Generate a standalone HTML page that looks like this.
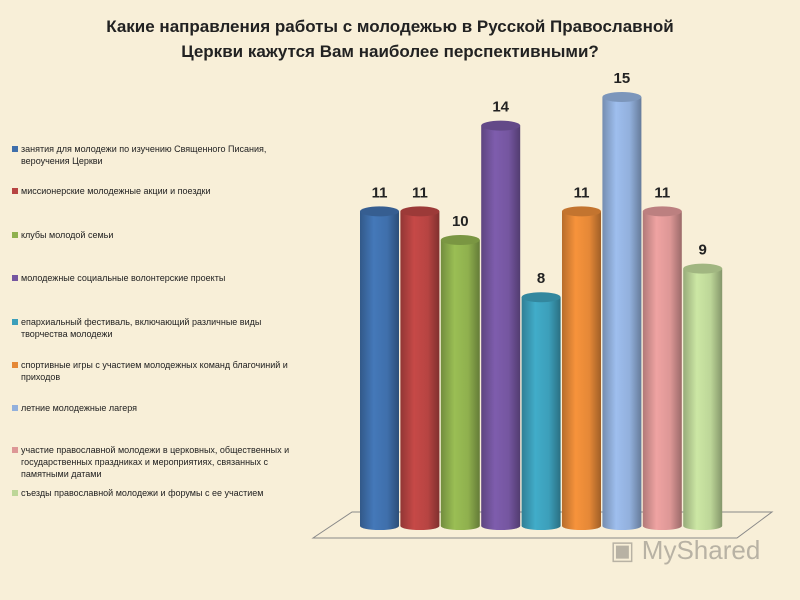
<!DOCTYPE html>
<html><head><meta charset="utf-8"><style>
body{margin:0;width:800px;height:600px;background:#f8efd8;font-family:"Liberation Sans","DejaVu Sans",sans-serif;overflow:hidden;position:relative}
#title{position:absolute;left:80px;top:14px;width:620px;text-align:center;font-weight:bold;font-size:17px;line-height:25px;color:#222}
.leg{position:absolute;left:12px;width:282px;font-size:9px;line-height:12px;color:#222}
.sw{display:inline-block;width:6px;height:6px;margin-right:3px}
.lt{padding-left:9px;text-indent:-9px}
</style></head><body>
<div id="title">Какие направления работы с молодежью в Русской Православной Церкви кажутся Вам наиболее перспективными?</div>
<div id="legend"></div>
<svg id="chart" width="800" height="600" style="position:absolute;left:0;top:0">
<defs></defs>
<polygon points="313,538 352,512 772,512 737,538" fill="none" stroke="#888" stroke-width="1"/>
</svg>
<script>
const categories=["занятия для молодежи по изучению Священного Писания, вероучения Церкви","миссионерские молодежные акции и поездки","клубы молодой семьи","молодежные социальные волонтерские  проекты","епархиальный фестиваль, включающий различные виды творчества молодежи","спортивные игры с участием молодежных команд благочиний и приходов","летние молодежные лагеря","участие православной молодежи в церковных, общественных и государственных праздниках и мероприятиях, связанных с памятными датами","съезды православной  молодежи и форумы с ее участием"];
const values=[11,11,10,14,8,11,15,11,9];
const colors=["#3f6fab","#b74442","#8fb04e","#7556a0","#3c9fba","#e58837","#92b0dc","#dd9796","#bdd698"];
const legendY=[143,185,229,272,316,359,402,444,487];
const y0=526,unit=28.6,x0=360,step=40.4,bw=39;
function yS(v){return y0-v*unit;}
function xS(i){return x0+i*step;}
const svg=document.getElementById('chart'),defs=svg.querySelector('defs'),NS="http://www.w3.org/2000/svg";
function sh(c,f){const n=parseInt(c.slice(1),16);let r=n>>16,g=(n>>8)&255,b=n&255;r=Math.min(255,Math.round(r*f));g=Math.min(255,Math.round(g*f));b=Math.min(255,Math.round(b*f));return `rgb(${r},${g},${b})`;}
values.forEach((v,i)=>{
 const gr=document.createElementNS(NS,'linearGradient');gr.id='g'+i;
 [[0,0.8],[0.35,1.08],[0.7,1],[1,0.7]].forEach(([o,f])=>{const s=document.createElementNS(NS,'stop');s.setAttribute('offset',o);s.setAttribute('stop-color',sh(colors[i],f));gr.appendChild(s);});
 defs.appendChild(gr);
 const x=xS(i),yt=yS(v);
 const p=document.createElementNS(NS,'path');
 p.setAttribute('d',`M${x},${yt} L${x},${y0} A${bw/2},4 0 0 0 ${x+bw},${y0} L${x+bw},${yt} Z`);
 p.setAttribute('fill','url(#g'+i+')');
 
 
 svg.appendChild(p);
 const e=document.createElementNS(NS,'ellipse');
 e.setAttribute('cx',x+bw/2);e.setAttribute('cy',yt);e.setAttribute('rx',bw/2);e.setAttribute('ry',5);
 e.setAttribute('fill',sh(colors[i],0.85));
 
 
 svg.appendChild(e);
 const t=document.createElementNS(NS,'text');
 t.setAttribute('x',x+bw/2);t.setAttribute('y',yt-14);t.setAttribute('text-anchor','middle');
 t.setAttribute('font-size','15');t.setAttribute('font-weight','bold');t.setAttribute('fill','#222');
 t.setAttribute('font-family','Liberation Sans, sans-serif');
 t.textContent=v;
 
 
 svg.appendChild(t);
});
const leg=document.getElementById('legend');
categories.forEach((c,i)=>{
 const d=document.createElement('div');d.className='leg lt';d.style.top=legendY[i]+'px';
 
 
 d.innerHTML=`<span class="sw" style="background:${colors[i]}"></span>${c}`;
 leg.appendChild(d);
});
</script>
<div style="position:absolute;left:610px;top:535px;font-size:26px;color:#b8b2a4">▣ MyShared</div>
</body></html>
